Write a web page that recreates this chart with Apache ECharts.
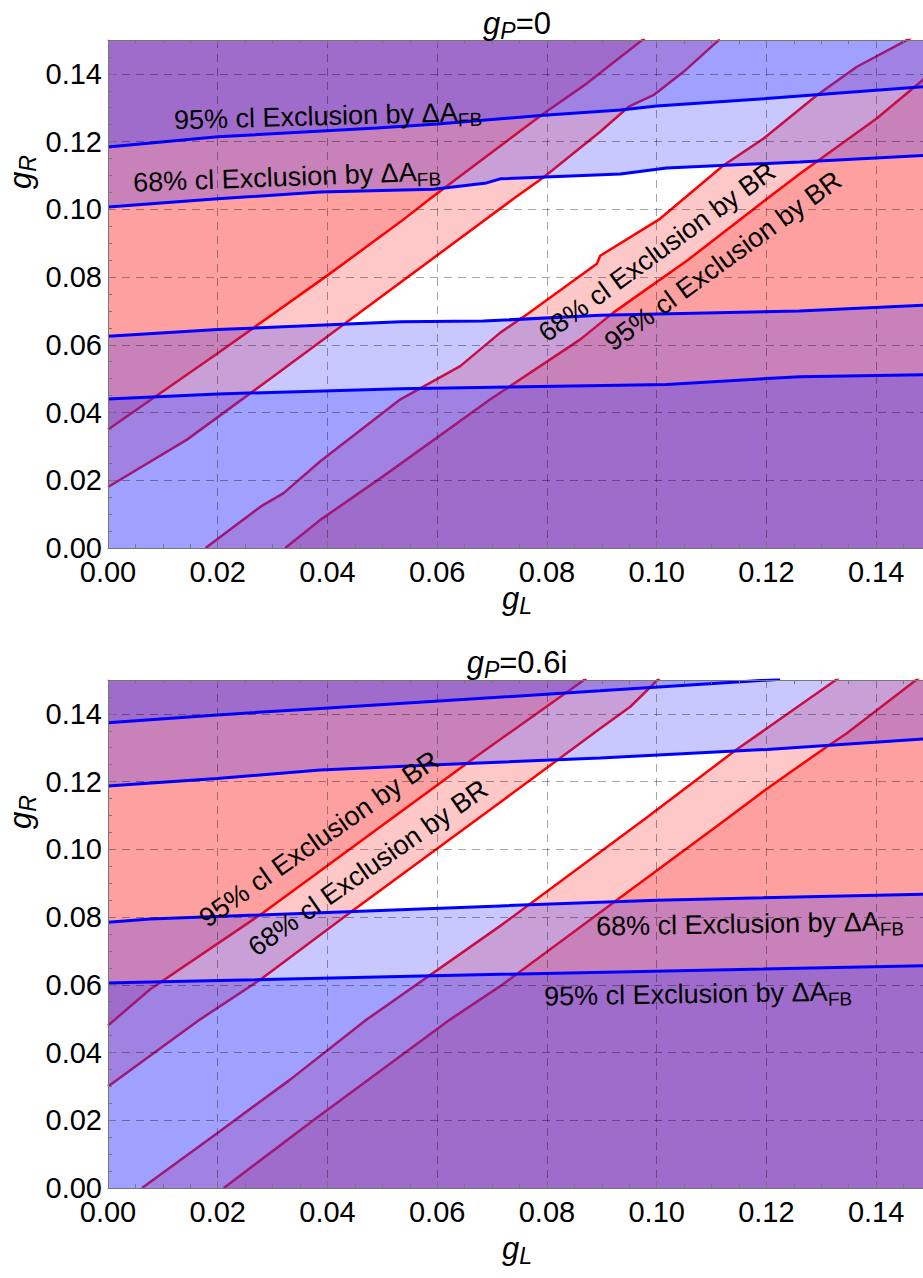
<!DOCTYPE html>
<html>
<head>
<meta charset="utf-8">
<script src="https://cdn.jsdelivr.net/npm/echarts/dist/echarts.min.js"></script>
<style>html,body{margin:0;padding:0;background:#fff}#c{width:923px;height:1278px}</style>
</head>
<body>
<div id="c"></div>
<script>
// ---------------- DATA (gL, gR) ----------------
// Panel 1 : g_P = 0
const p1_BR95_upper = [[0,0.035],[0.02,0.0575],[0.04,0.0805],[0.0533,0.0963],[0.0587,0.1031],[0.0733,0.1209],[0.0794,0.1283],[0.0873,0.1372],[0.0934,0.145],[0.0978,0.1505]];
const p1_BR68_upper = [[0,0.018],[0.0144,0.032],[0.03,0.0505],[0.0533,0.0784],[0.0739,0.1031],[0.0794,0.1095],[0.0897,0.1229],[0.0949,0.1303],[0.0994,0.1337],[0.1049,0.1406],[0.1103,0.1485],[0.1115,0.1502]];
const p1_BR68_lower = [[0.0178,0],[0.0185,0.0009],[0.0278,0.0122],[0.032,0.0162],[0.0387,0.0256],[0.0533,0.0439],[0.0642,0.0537],[0.0715,0.0636],[0.0764,0.069],[0.0891,0.0839],[0.0897,0.0863],[0.1006,0.0972],[0.1122,0.113],[0.1195,0.1209],[0.1292,0.1337],[0.1365,0.1421],[0.1462,0.1505],[0.15,0.1545]];
const p1_BR95_lower = [[0.0323,0],[0.0387,0.0083],[0.05,0.021],[0.0697,0.0439],[0.0861,0.0616],[0.0921,0.0695],[0.1055,0.0848],[0.1201,0.1031],[0.1261,0.1105],[0.1401,0.1268],[0.1485,0.1382],[0.15,0.1402]];
const p1_AFB95_upper = [[0,0.1184],[0.02,0.1214],[0.049,0.124],[0.06,0.1252],[0.0794,0.1278],[0.0934,0.1293],[0.10,0.1305],[0.12,0.1327],[0.1485,0.1362],[0.15,0.1364]];
const p1_AFB68_upper = [[0,0.1007],[0.02,0.1031],[0.0387,0.1051],[0.0594,0.1059],[0.069,0.1078],[0.0715,0.109],[0.0934,0.1104],[0.1018,0.1122],[0.1261,0.114],[0.15,0.116]];
const p1_AFB68_lower = [[0,0.0625],[0.02,0.0645],[0.0533,0.0668],[0.0684,0.067],[0.0897,0.0687],[0.126,0.070],[0.15,0.0718]];
const p1_AFB95_lower = [[0,0.044],[0.02,0.0455],[0.0533,0.047],[0.1018,0.0483],[0.126,0.0506],[0.15,0.0512]];

// Panel 2 : g_P = 0.6i
const p2_BR95_upper = [[0,0.048],[0.0077,0.0587],[0.0284,0.0814],[0.0666,0.1268],[0.0872,0.1505]];
const p2_BR68_upper = [[0,0.030],[0.0168,0.0498],[0.0278,0.0616],[0.0442,0.0814],[0.0715,0.1139],[0.0897,0.1357],[0.0952,0.1421],[0.1006,0.1507]];
const p2_BR68_lower = [[0.0062,0],[0.0199,0.0162],[0.0332,0.032],[0.0472,0.0498],[0.0715,0.0774],[0.0979,0.109],[0.114,0.1288],[0.1331,0.1505],[0.15,0.17]];
const p2_BR95_lower = [[0.0211,0],[0.0375,0.0201],[0.0624,0.0498],[0.0715,0.0596],[0.1128,0.109],[0.1201,0.1179],[0.131,0.1303],[0.1346,0.1342],[0.1477,0.1505],[0.15,0.153]];
const p2_AFB95_upper = [[0,0.1374],[0.0199,0.1397],[0.0387,0.1416],[0.0897,0.1468],[0.1225,0.1502]];
const p2_AFB68_upper = [[0,0.1187],[0.0199,0.1209],[0.0387,0.1234],[0.06,0.125],[0.0897,0.127],[0.1201,0.1295],[0.15,0.1327]];
const p2_AFB68_lower = [[0,0.0785],[0.0077,0.0794],[0.0715,0.0833],[0.10,0.085],[0.15,0.0868]];
const p2_AFB95_lower = [[0,0.0605],[0.0077,0.0608],[0.0715,0.0631],[0.15,0.0657]];

const axisMin = 0, axisMax = 0.15, majorStep = 0.02, minorStep = 0.005;
const panelTitles = [['g','P','=0'], ['g','P','=0.6i']];
const xName = ['g','L'], yName = ['g','R'];
const lblBR68 = '68% cl Exclusion by BR', lblBR95 = '95% cl Exclusion by BR';
const lblAFB68 = '68% cl Exclusion by ΔA', lblAFB95 = '95% cl Exclusion by ΔA', lblAFBsub = 'FB';

// ---------------- STYLE ----------------
const FONT = "'Liberation Sans', Arial, Helvetica, sans-serif";
const RED = 'rgb(255,51,51)', BLUE = 'rgb(51,51,255)', LAYER_OP = 0.27;
const GRID_TOPS = [40, 680], GRID_H = 508;

const chart = echarts.init(document.getElementById('c'), null, {renderer: 'svg'});

function xAxes(gi) {
  const base = {type: 'value', gridIndex: gi, min: axisMin, max: axisMax, z: 5};
  return [
    Object.assign({}, base, {position: 'bottom', interval: majorStep,
      axisLine: {show: true, onZero: false, lineStyle: {color: '#777', width: 1}},
      axisTick: {show: true, inside: true, length: 7, lineStyle: {color: '#777'}},
      axisLabel: {show: true, margin: 13, fontSize: 29, lineHeight: 22, fontFamily: FONT, color: '#000',
        formatter: v => v.toFixed(2), showMaxLabel: false},
      splitLine: {show: true, lineStyle: {color: 'rgba(0,0,0,0.35)', type: [8, 6], width: 1}}}),
    Object.assign({}, base, {position: 'bottom', interval: minorStep,
      axisLine: {show: false, onZero: false},
      axisTick: {show: true, inside: true, length: 4, lineStyle: {color: '#777'}},
      axisLabel: {show: false}, splitLine: {show: false}}),
    Object.assign({}, base, {position: 'top', interval: minorStep,
      axisLine: {show: true, onZero: false, lineStyle: {color: '#777', width: 1}},
      axisTick: {show: true, inside: true, length: 4, lineStyle: {color: '#777'}},
      axisLabel: {show: false}, splitLine: {show: false}})
  ];
}
function yAxes(gi) {
  const base = {type: 'value', gridIndex: gi, min: axisMin, max: axisMax, z: 5};
  return [
    Object.assign({}, base, {position: 'left', interval: majorStep,
      axisLine: {show: true, onZero: false, lineStyle: {color: '#777', width: 1}},
      axisTick: {show: true, inside: true, length: 7, lineStyle: {color: '#777'}},
      axisLabel: {show: true, margin: 6, fontSize: 29, lineHeight: 20, fontFamily: FONT, color: '#000',
        formatter: v => v.toFixed(2), showMaxLabel: false},
      splitLine: {show: true, lineStyle: {color: 'rgba(0,0,0,0.35)', type: [8, 6], width: 1}}}),
    Object.assign({}, base, {position: 'left', interval: minorStep,
      axisLine: {show: false, onZero: false},
      axisTick: {show: true, inside: true, length: 4, lineStyle: {color: '#777'}},
      axisLabel: {show: false}, splitLine: {show: false}})
  ];
}

function areaSeries(data, gi, color, origin, z) {
  return {type: 'line', xAxisIndex: gi * 3, yAxisIndex: gi * 2, data: data, z: z,
    symbol: 'none', showSymbol: false, silent: true, clip: true, smooth: false,
    lineStyle: {width: 0, opacity: 0},
    areaStyle: {color: color, opacity: LAYER_OP, origin: origin}};
}
function curveSeries(data, gi, color, width, z) {
  return {type: 'line', xAxisIndex: gi * 3, yAxisIndex: gi * 2, data: data, z: z,
    symbol: 'none', showSymbol: false, silent: true, clip: true, smooth: false,
    lineStyle: {color: color, width: width}};
}

function panelSeries(gi, P) {
  return [
    // BR exclusion layers (red) and their contours
    areaSeries(P.br68u, gi, RED, 'end', 1),
    areaSeries(P.br68l, gi, RED, 'start', 1),
    areaSeries(P.br95u, gi, RED, 'end', 1),
    areaSeries(P.br95l, gi, RED, 'start', 1),
    curveSeries(P.br95u, gi, '#ff0000', 2.5, 2),
    curveSeries(P.br68u, gi, '#ff0000', 2.5, 2),
    curveSeries(P.br68l, gi, '#ff0000', 2.5, 2),
    curveSeries(P.br95l, gi, '#ff0000', 2.5, 2),
    // Delta A_FB exclusion layers (blue), drawn over the red ones
    areaSeries(P.afb68u, gi, BLUE, 'end', 3),
    areaSeries(P.afb68l, gi, BLUE, 'start', 3),
    areaSeries(P.afb95u, gi, BLUE, 'end', 3),
    areaSeries(P.afb95l, gi, BLUE, 'start', 3),
    curveSeries(P.afb95u, gi, '#0000ff', 3, 4),
    curveSeries(P.afb68u, gi, '#0000ff', 3, 4),
    curveSeries(P.afb68l, gi, '#0000ff', 3, 4),
    curveSeries(P.afb95l, gi, '#0000ff', 3, 4)
  ];
}

const P1 = {br95u: p1_BR95_upper, br68u: p1_BR68_upper, br68l: p1_BR68_lower, br95l: p1_BR95_lower,
  afb95u: p1_AFB95_upper, afb68u: p1_AFB68_upper, afb68l: p1_AFB68_lower, afb95l: p1_AFB95_lower};
const P2 = {br95u: p2_BR95_upper, br68u: p2_BR68_upper, br68l: p2_BR68_lower, br95l: p2_BR95_lower,
  afb95u: p2_AFB95_upper, afb68u: p2_AFB68_upper, afb68l: p2_AFB68_lower, afb95l: p2_AFB95_lower};

function richText(parts, x, y, deg, size, subScale) {
  const txt = parts.map(p => '{' + p[0] + '|' + p[1] + '}').join('');
  const sub = Math.round(size * (subScale || 0.7));
  const lh = Math.round(size * 1.27);
  return {type: 'text', x: x, y: y, rotation: deg * Math.PI / 180, z: 20, silent: true,
    style: {text: txt, align: 'center', verticalAlign: 'middle', fill: '#000',
      font: size + 'px ' + FONT,
      rich: {
        m: {fontSize: size, fontFamily: FONT, fill: '#000', lineHeight: lh, verticalAlign: 'middle'},
        i: {fontSize: size, fontFamily: FONT, fontStyle: 'italic', fill: '#000', lineHeight: lh, verticalAlign: 'middle'},
        s: {fontSize: sub, fontFamily: FONT, fill: '#000', lineHeight: sub, verticalAlign: 'bottom'},
        si: {fontSize: sub, fontFamily: FONT, fontStyle: 'italic', fill: '#000', lineHeight: sub, verticalAlign: 'bottom'}
      }}};
}

const graphics = [
  // titles
  richText([['i', panelTitles[0][0]], ['si', panelTitles[0][1]], ['m', panelTitles[0][2]]], 517, 23, 0, 31, 0.75),
  richText([['i', panelTitles[1][0]], ['si', panelTitles[1][1]], ['m', panelTitles[1][2]]], 517, 662, 0, 31, 0.75),
  // axis names
  richText([['i', xName[0]], ['si', xName[1]]], 517, 598, 0, 31, 0.75),
  richText([['i', xName[0]], ['si', xName[1]]], 517, 1248, 0, 31, 0.75),
  richText([['i', yName[0]], ['si', yName[1]]], 20, 172, 90, 31, 0.75),
  richText([['i', yName[0]], ['si', yName[1]]], 20, 812, 90, 31, 0.75),
  // panel 1 annotations
  richText([['m', lblAFB95], ['s', lblAFBsub]], 328, 116, 1.6, 27),
  richText([['m', lblAFB68], ['s', lblAFBsub]], 287, 177, 2.1, 27),
  richText([['m', lblBR68]], 657, 252, 36, 27),
  richText([['m', lblBR95]], 723, 261, 36, 27),
  // panel 2 annotations
  richText([['m', lblBR95]], 319, 839, 35, 27),
  richText([['m', lblBR68]], 368, 868, 35, 27),
  richText([['m', lblAFB68], ['s', lblAFBsub]], 750, 924, 1, 27),
  richText([['m', lblAFB95], ['s', lblAFBsub]], 698, 994, 1, 27)
];

const option = {
  animation: false,
  backgroundColor: '#fff',
  grid: GRID_TOPS.map(t => ({left: 108, right: -8, top: t, height: GRID_H, containLabel: false, outerBoundsMode: 'none'})),
  xAxis: xAxes(0).concat(xAxes(1)),
  yAxis: yAxes(0).concat(yAxes(1)),
  series: panelSeries(0, P1).concat(panelSeries(1, P2)),
  graphic: graphics
};
chart.setOption(option);
</script>
</body>
</html>
